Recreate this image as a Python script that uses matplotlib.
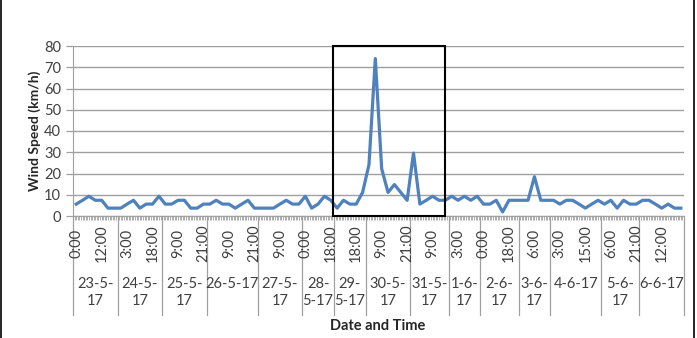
import numpy as np
import matplotlib
matplotlib.use('Agg')
import matplotlib.pyplot as plt
import matplotlib.transforms as mtransforms
from matplotlib.patches import Rectangle

# wind speed readings (km/h), one per observation
wind_speed = [5.6, 7.4, 9.3, 7.4, 7.4, 3.7, 3.7, 3.7, 5.6, 7.4,
              3.7, 5.6, 5.6, 9.3, 5.6, 5.6, 7.4, 7.4, 3.7, 3.7,
              5.6, 5.6, 7.4, 5.6, 5.6, 3.7, 5.6, 7.4, 3.7, 3.7,
              3.7, 3.7, 5.6, 7.4, 5.6, 5.6, 9.3, 3.7, 5.6, 9.3,
              7.4, 3.7, 7.4, 5.6, 5.6, 11.1, 24.1, 74.1, 22.2, 11.1,
              14.8, 11.1, 7.4, 29.6, 5.6, 7.4, 9.3, 7.4, 7.4, 9.3,
              7.4, 9.3, 7.4, 9.3, 5.6, 5.6, 7.4, 1.9, 7.4, 7.4,
              7.4, 7.4, 18.5, 7.4, 7.4, 7.4, 5.6, 7.4, 7.4, 5.6,
              3.7, 5.6, 7.4, 5.6, 7.4, 3.7, 7.4, 5.6, 5.6, 7.4,
              7.4, 5.6, 3.7, 5.6, 3.7, 3.7]

# every 4th observation gets a time label
label_step = 4
time_labels = ['0:00', '12:00', '3:00', '18:00', '9:00', '21:00', '9:00', '21:00',
               '9:00', '0:00', '18:00', '18:00', '9:00', '21:00', '9:00', '3:00',
               '0:00', '18:00', '6:00', '3:00', '15:00', '6:00', '21:00', '12:00']

day_names = ['23-5-\n17', '24-5-\n17', '25-5-\n17', '26-5-17', '27-5-\n17', '28-\n5-17',
             '29-\n5-17', '30-5-\n17', '31-5-\n17', '1-6-\n17', '2-6-\n17', '3-6-\n17',
             '4-6-17', '5-6-\n17', '6-6-17']
day_counts = [7, 7, 7, 8, 7, 5, 5, 7, 6, 5, 6, 5, 8, 6, 7]

# highlighted storm window (in observation index units)
box_start, box_end = 40.4, 58.0

plt.rcParams['font.family'] = ['Lato', 'DejaVu Sans']
txt = '#404040'
grey = '#A0A0A0'

fig = plt.figure(figsize=(6.97, 3.38), dpi=100)
ax = fig.add_axes([73/697, 1-216/338, 611/697, 170/338])

x = np.arange(len(wind_speed))
ax.plot(x, wind_speed, color='#4F81BD', lw=2.3, solid_joinstyle='round', zorder=3)

ax.set_xlim(-0.5, len(wind_speed) - 0.5)
ax.set_ylim(0, 80)
ax.set_yticks(np.arange(0, 81, 10))
ax.yaxis.grid(True, color=grey, lw=1.0)
ax.set_axisbelow(True)
for s in ['top', 'right']:
    ax.spines[s].set_visible(False)
for s in ['left', 'bottom']:
    ax.spines[s].set_color(grey)
ax.tick_params(axis='y', colors=grey, labelcolor=txt, labelsize=10.5, length=5, width=0.9)
ax.set_xticks([])
ax.set_xticks(np.arange(-0.5, len(wind_speed) - 0.4, 0.25), minor=True)
ax.tick_params(axis='x', which='minor', length=3, color=grey, width=0.6)

ax.set_ylabel('Wind Speed (km/h)', fontweight='bold', fontsize=10, color='#262626')
ax.yaxis.set_label_coords(-0.053, 0.5)

trans = mtransforms.blended_transform_factory(ax.transData, ax.transAxes)
bottom = (216 - 315) / 170

# day separators
edges = np.concatenate([[0], np.cumsum(day_counts)]) - 0.5
for b in edges:
    ax.plot([b, b], [0, bottom], transform=trans, clip_on=False, color=grey, lw=0.9)

for k, lab in enumerate(time_labels):
    ax.text(k * label_step, -0.16, lab, rotation=90, ha='center', va='center',
            transform=trans, fontsize=10.5, color=txt)

for i, name in enumerate(day_names):
    c = (edges[i] + edges[i + 1]) / 2
    ax.text(c, -0.36, name, ha='center', va='top', transform=trans,
            fontsize=10.5, color=txt, linespacing=1.25)

ax.add_patch(Rectangle((box_start, 0), box_end - box_start, 80, fill=False,
                       edgecolor='black', lw=1.5, zorder=4, clip_on=False))

fig.text(378/697, 1-326/338, 'Date and Time', ha='center', va='center',
         fontweight='bold', fontsize=10.5, color='#262626')

# outer frame edges
fig.add_artist(plt.Line2D([0.002, 0.002], [0, 1], color='black', lw=1.2, transform=fig.transFigure))
fig.add_artist(plt.Line2D([0.996, 0.996], [0, 1], color='black', lw=1.2, transform=fig.transFigure))

fig.savefig('out.png', dpi=100)
